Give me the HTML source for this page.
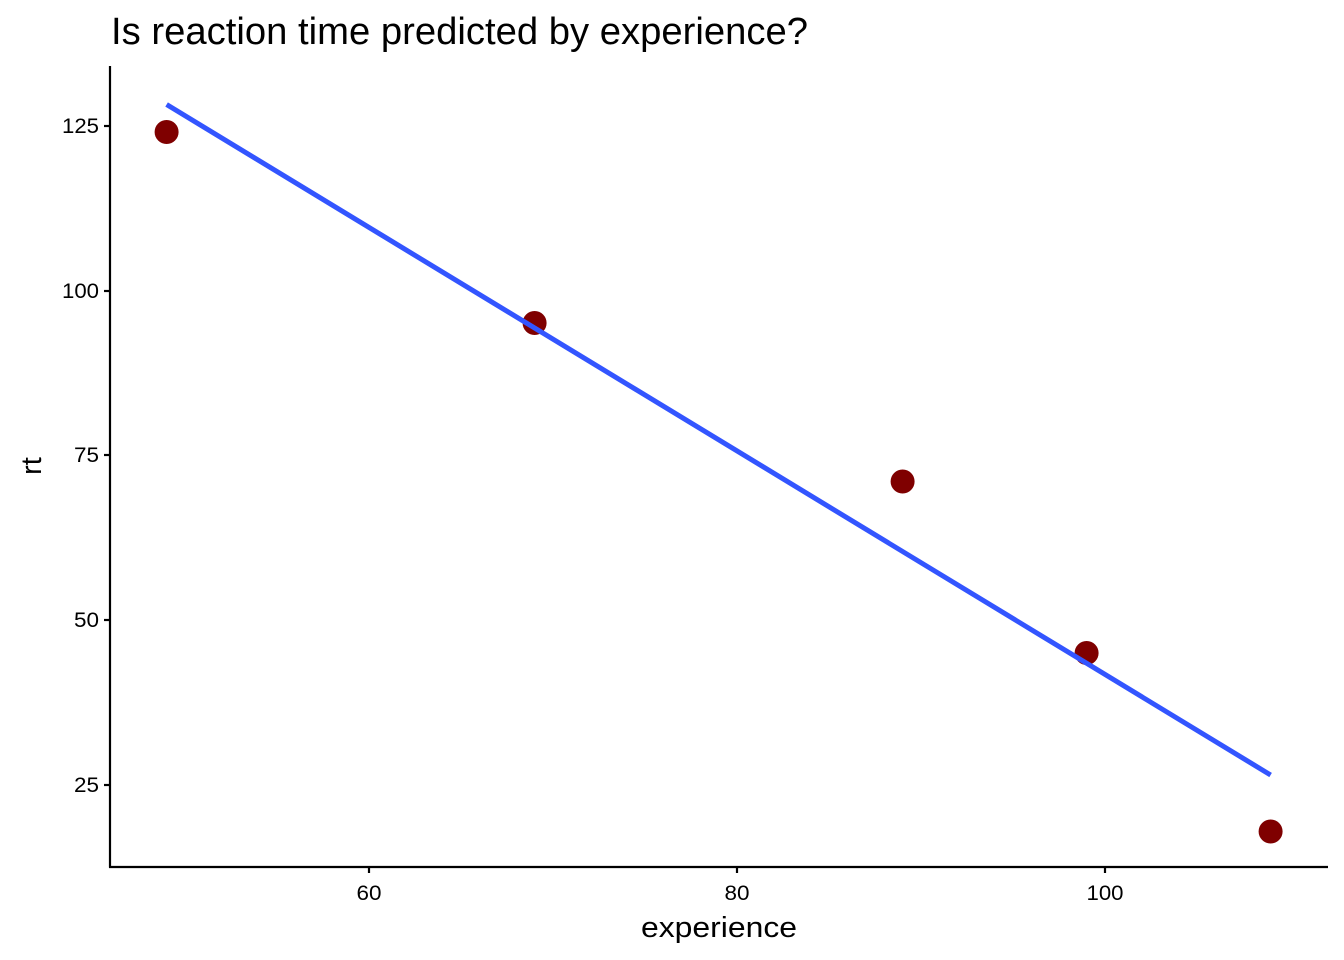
<!DOCTYPE html>
<html><head><meta charset="utf-8"><style>
html,body{margin:0;padding:0;background:#fff;}
svg{display:block;font-family:"Liberation Sans",Arial,sans-serif;}
</style></head><body>
<svg width="1344" height="960" viewBox="0 0 1344 960" xmlns="http://www.w3.org/2000/svg">
<rect width="1344" height="960" fill="#fff"/>
<text x="111" y="44" font-size="38" fill="#000" textLength="697" lengthAdjust="spacingAndGlyphs">Is reaction time predicted by experience?</text>
<line x1="110" y1="66" x2="110" y2="867.5" stroke="#000" stroke-width="2.2"/>
<line x1="109" y1="867" x2="1328" y2="867" stroke="#000" stroke-width="2.2"/>
<g stroke="#000" stroke-width="2.2">
<line x1="104" y1="126" x2="110" y2="126"/>
<line x1="104" y1="291" x2="110" y2="291"/>
<line x1="104" y1="455" x2="110" y2="455"/>
<line x1="104" y1="620" x2="110" y2="620"/>
<line x1="104" y1="785" x2="110" y2="785"/>
<line x1="369" y1="867" x2="369" y2="873"/>
<line x1="737" y1="867" x2="737" y2="873"/>
<line x1="1105" y1="867" x2="1105" y2="873"/>
</g>
<g font-size="21" fill="#000" text-anchor="end">
<text x="99" y="133" textLength="37" lengthAdjust="spacingAndGlyphs">125</text>
<text x="99" y="298" textLength="37" lengthAdjust="spacingAndGlyphs">100</text>
<text x="99" y="462" textLength="25" lengthAdjust="spacingAndGlyphs">75</text>
<text x="99" y="627" textLength="25" lengthAdjust="spacingAndGlyphs">50</text>
<text x="99" y="792" textLength="25" lengthAdjust="spacingAndGlyphs">25</text>
</g>
<g font-size="21" fill="#000" text-anchor="middle">
<text x="369" y="900" textLength="25" lengthAdjust="spacingAndGlyphs">60</text>
<text x="737" y="900" textLength="25" lengthAdjust="spacingAndGlyphs">80</text>
<text x="1105" y="900" textLength="37" lengthAdjust="spacingAndGlyphs">100</text>
</g>
<text x="719" y="937" font-size="29" text-anchor="middle" fill="#000" textLength="156" lengthAdjust="spacingAndGlyphs">experience</text>
<text transform="translate(41,466) rotate(-90)" font-size="29" text-anchor="middle" fill="#000">rt</text>
<g fill="#7F0000">
<circle cx="166.6" cy="132" r="12"/>
<circle cx="534.6" cy="323" r="12"/>
<circle cx="902.6" cy="481.5" r="12"/>
<circle cx="1086.6" cy="653" r="12"/>
<circle cx="1270.6" cy="831.5" r="12"/>
</g>
<line x1="166.6" y1="104.5" x2="1270.6" y2="775" stroke="#3355FF" stroke-width="5"/>
</svg>
</body></html>
